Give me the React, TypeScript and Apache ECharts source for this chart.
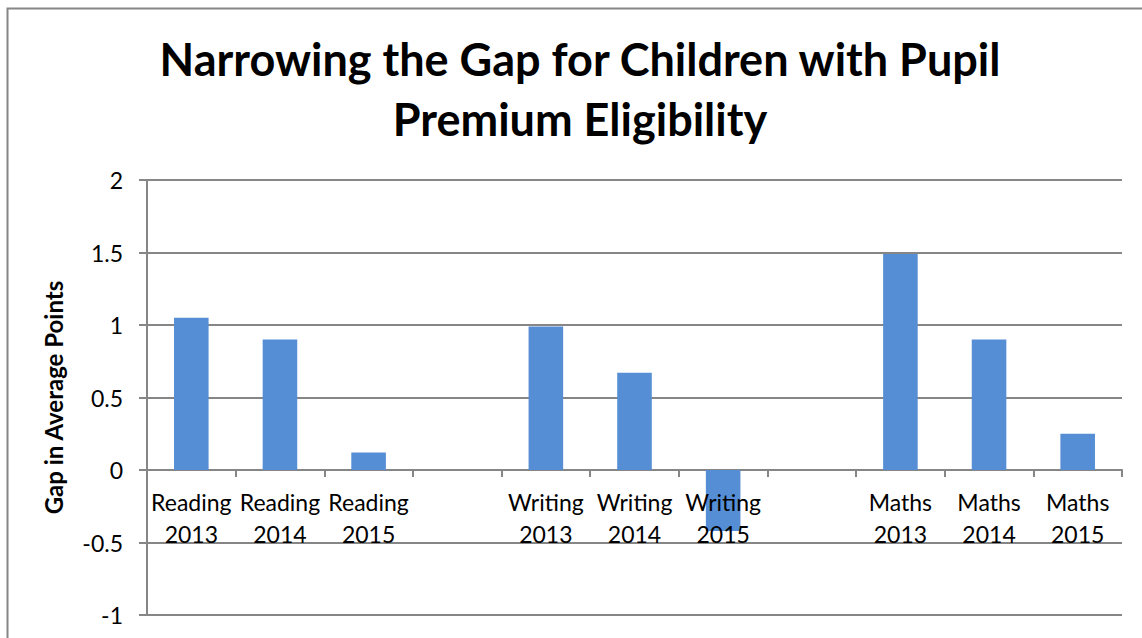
import React, { useEffect, useRef } from "react";
import * as echarts from "echarts";

const categories = [
  "Reading\n2013", "Reading\n2014", "Reading\n2015", "",
  "Writing\n2013", "Writing\n2014", "Writing\n2015", "",
  "Maths\n2013", "Maths\n2014", "Maths\n2015",
];
const gapValues: (number | null)[] = [1.05, 0.9, 0.12, null, 0.99, 0.67, -0.42, null, 1.49, 0.9, 0.25];
const titleLines = ["Narrowing the Gap for Children with Pupil", "Premium Eligibility"];
const yAxisName = "Gap in Average Points";

const FONT = "Lato, 'Open Sans', sans-serif";
const GRAY = "#868686";

export default function App() {
  const ref = useRef<HTMLDivElement>(null);
  useEffect(() => {
    if (!ref.current) return;
    const chart = echarts.init(ref.current, null, { renderer: "svg" });
    chart.setOption({
      animation: false,
      backgroundColor: "#ffffff",
      textStyle: { fontFamily: FONT },
      graphic: [
        {
          type: "rect",
          shape: { x: 7.5, y: 8.5, width: 1160, height: 660 },
          style: { fill: "none", stroke: GRAY, lineWidth: 2 },
          silent: true,
        },
        {
          type: "text",
          x: 580,
          y: 89,
          style: {
            text: titleLines.join("\n"),
            fontFamily: FONT,
            fontWeight: "bold",
            fontSize: 45,
            lineHeight: 60,
            fill: "#000",
            align: "center",
            verticalAlign: "middle",
          },
        },
      ],
      grid: {
        left: 147, right: 20, top: 180, bottom: 23,
        containLabel: false,
        outerBoundsMode: "none",
      },
      xAxis: [
        {
          type: "category",
          data: categories,
          boundaryGap: true,
          axisLine: { show: true, onZero: true, lineStyle: { color: GRAY, width: 2 } },
          axisTick: { show: true, length: 7, interval: 0, lineStyle: { color: GRAY, width: 2 } },
          axisLabel: { show: false },
          splitLine: { show: false },
        },
        {
          type: "category",
          data: categories,
          position: "bottom",
          offset: -146,
          z: 10,
          boundaryGap: true,
          axisLine: { show: false, onZero: false },
          axisTick: { show: false },
          axisLabel: {
            interval: 0,
            color: "#000",
            fontFamily: FONT,
            fontSize: 23,
            lineHeight: 32,
            margin: 17,
          },
          splitLine: { show: false },
        },
      ],
      yAxis: {
        type: "value",
        min: -1,
        max: 2,
        interval: 0.5,
        name: yAxisName,
        nameLocation: "middle",
        nameGap: 82,
        nameRotate: 90,
        nameTextStyle: { fontFamily: FONT, fontWeight: "bold", fontSize: 24, color: "#000" },
        axisLine: { show: true, lineStyle: { color: GRAY, width: 2 } },
        axisTick: { show: true, inside: false, length: 8, lineStyle: { color: GRAY, width: 2 } },
        axisLabel: { color: "#000", fontFamily: FONT, fontSize: 23, margin: 24 },
        splitLine: { show: true, lineStyle: { color: GRAY, width: 2 } },
      },
      series: [
        {
          type: "bar",
          data: gapValues,
          xAxisIndex: 0,
          barWidth: "39%",
          itemStyle: { color: "#558ed5" },
          z: 1,
        },
      ],
    });
    return () => chart.dispose();
  }, []);
  return (
    <div
      ref={ref}
      style={{ position: "fixed", left: 0, top: 0, width: 1142, height: 638 }}
    />
  );
}
